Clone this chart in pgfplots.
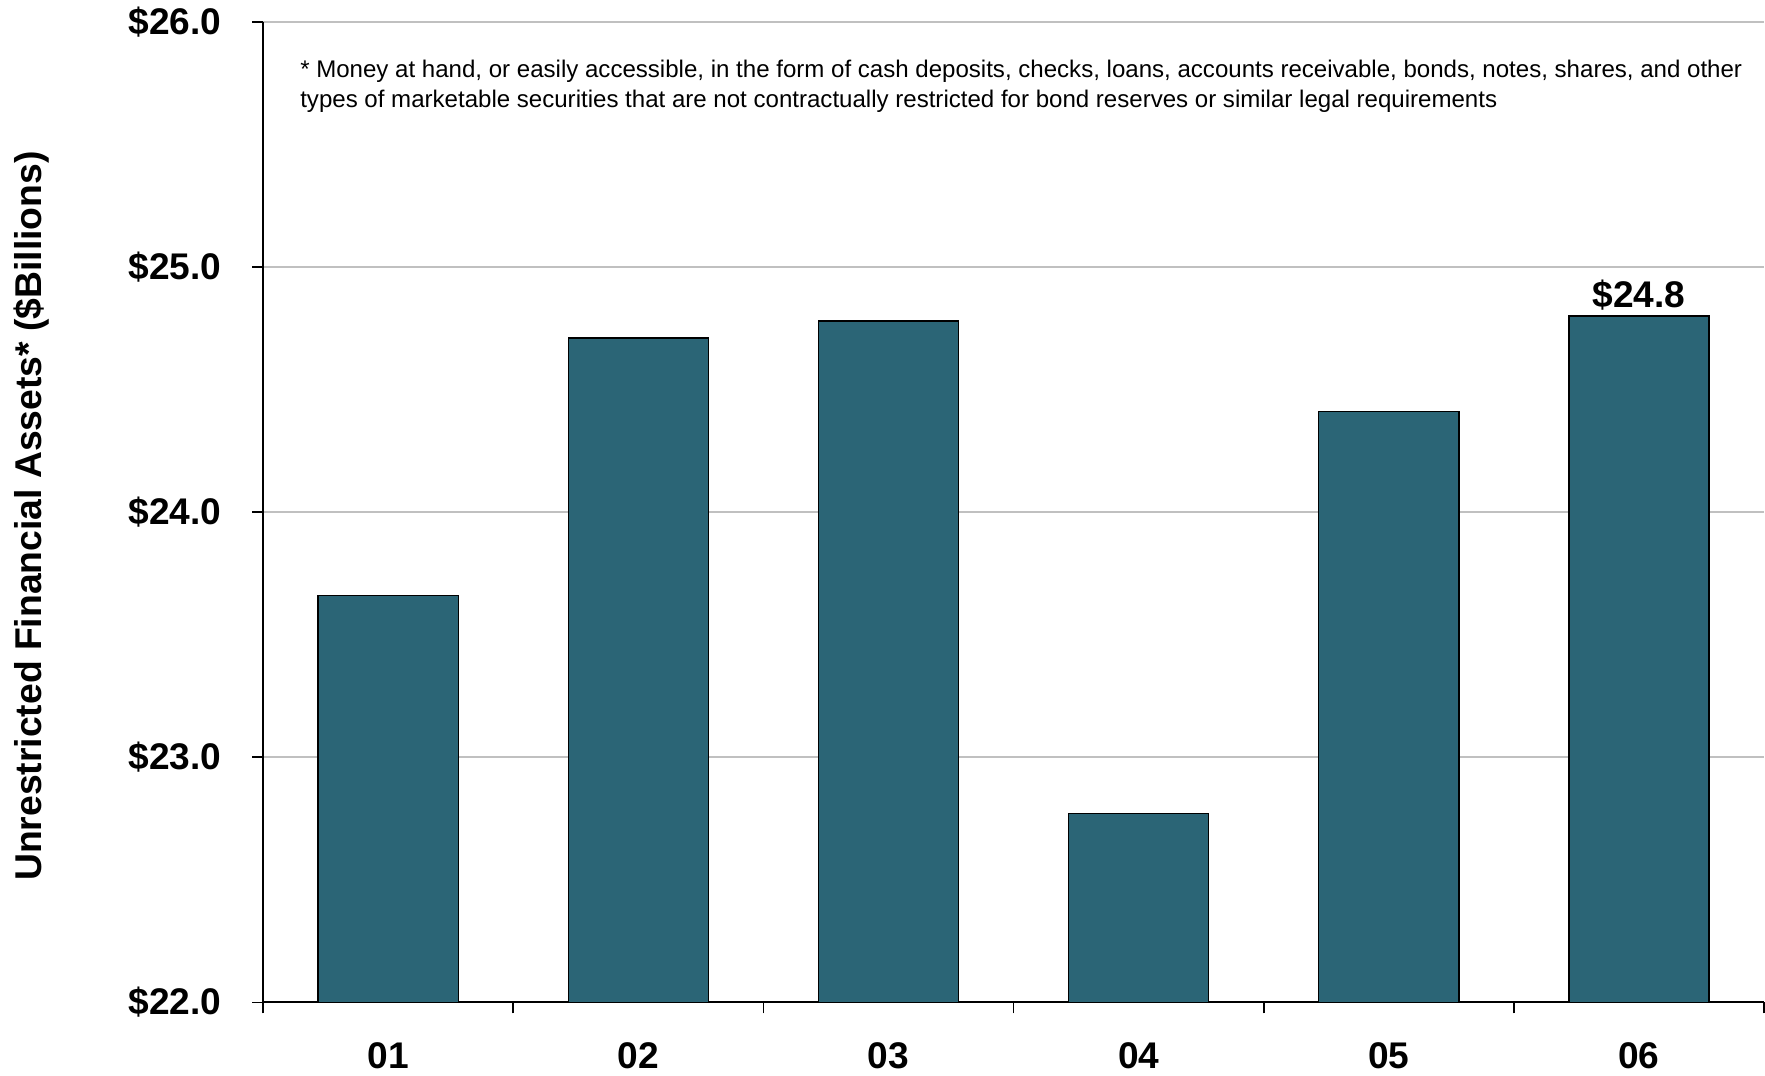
\documentclass[border=0pt]{standalone}
\usepackage{pgfplots}
\pgfplotsset{compat=1.18}
\usepackage{fontspec}
\setmainfont{Liberation Sans}
\definecolor{barteal}{RGB}{43,101,118}
\definecolor{gridgray}{RGB}{192,192,192}
\begin{document}
\begin{tikzpicture}
\begin{axis}[
  width=748.5pt, height=489pt,
  scale only axis,
  ybar,
  bar width=0.56,
  xmin=-0.5, xmax=5.5,
  ymin=22, ymax=26,
  axis x line*=bottom,
  axis y line*=left,
  axis line style={-,line width=1pt,black},
  xtick={0,1,2,3,4,5},
  xticklabels={01,02,03,04,05,06},
  minor xtick={-0.5,0.5,...,5.5},
  major x tick style={draw=none},
  minor x tick style={black,line width=0.8pt},
  ytick={22,23,24,25,26},
  yticklabels={\$22.0,\$23.0,\$24.0,\$25.0,\$26.0},
  y tick style={black,line width=0.8pt},
  tick align=outside,
  major tick length=5.5pt,
  minor tick length=5.5pt,
  ymajorgrids=true,
  grid style={gridgray,line width=0.8pt},
  ticklabel style={font=\fontsize{18.5}{21}\selectfont\bfseries},
  xticklabel style={yshift=-11pt},
  yticklabel style={xshift=-11.8pt},
  ylabel={Unrestricted Financial Assets* (\$Billions)},
  ylabel style={font=\fontsize{18.6}{21}\selectfont\bfseries,
                at={(axis description cs:-0.1475,0.496)}, anchor=base,
                inner ysep=7pt},
  point meta=explicit symbolic,
  nodes near coords,
  nodes near coords style={font=\fontsize{18.5}{21}\selectfont\bfseries, black, inner sep=2.5pt},
  clip=false,
]
\addplot[fill=barteal, draw=black, line width=0.7pt]
coordinates {
(0,23.66)[]
(1,24.71)[]
(2,24.78)[]
(3,22.77)[]
(4,24.41)[]
(5,24.80)[\$24.8]
};
\node[anchor=north west, inner sep=0pt, align=left,
      font=\fontsize{12}{14.7}\selectfont]
  at (rel axis cs:0.0245,0.961)
  {* Money at hand, or easily accessible, in the form of cash deposits, checks, loans, accounts receivable, bonds, notes, shares, and other\\
   types of marketable securities that are not contractually restricted for bond reserves or similar legal requirements};
\end{axis}
\end{tikzpicture}
\end{document}
